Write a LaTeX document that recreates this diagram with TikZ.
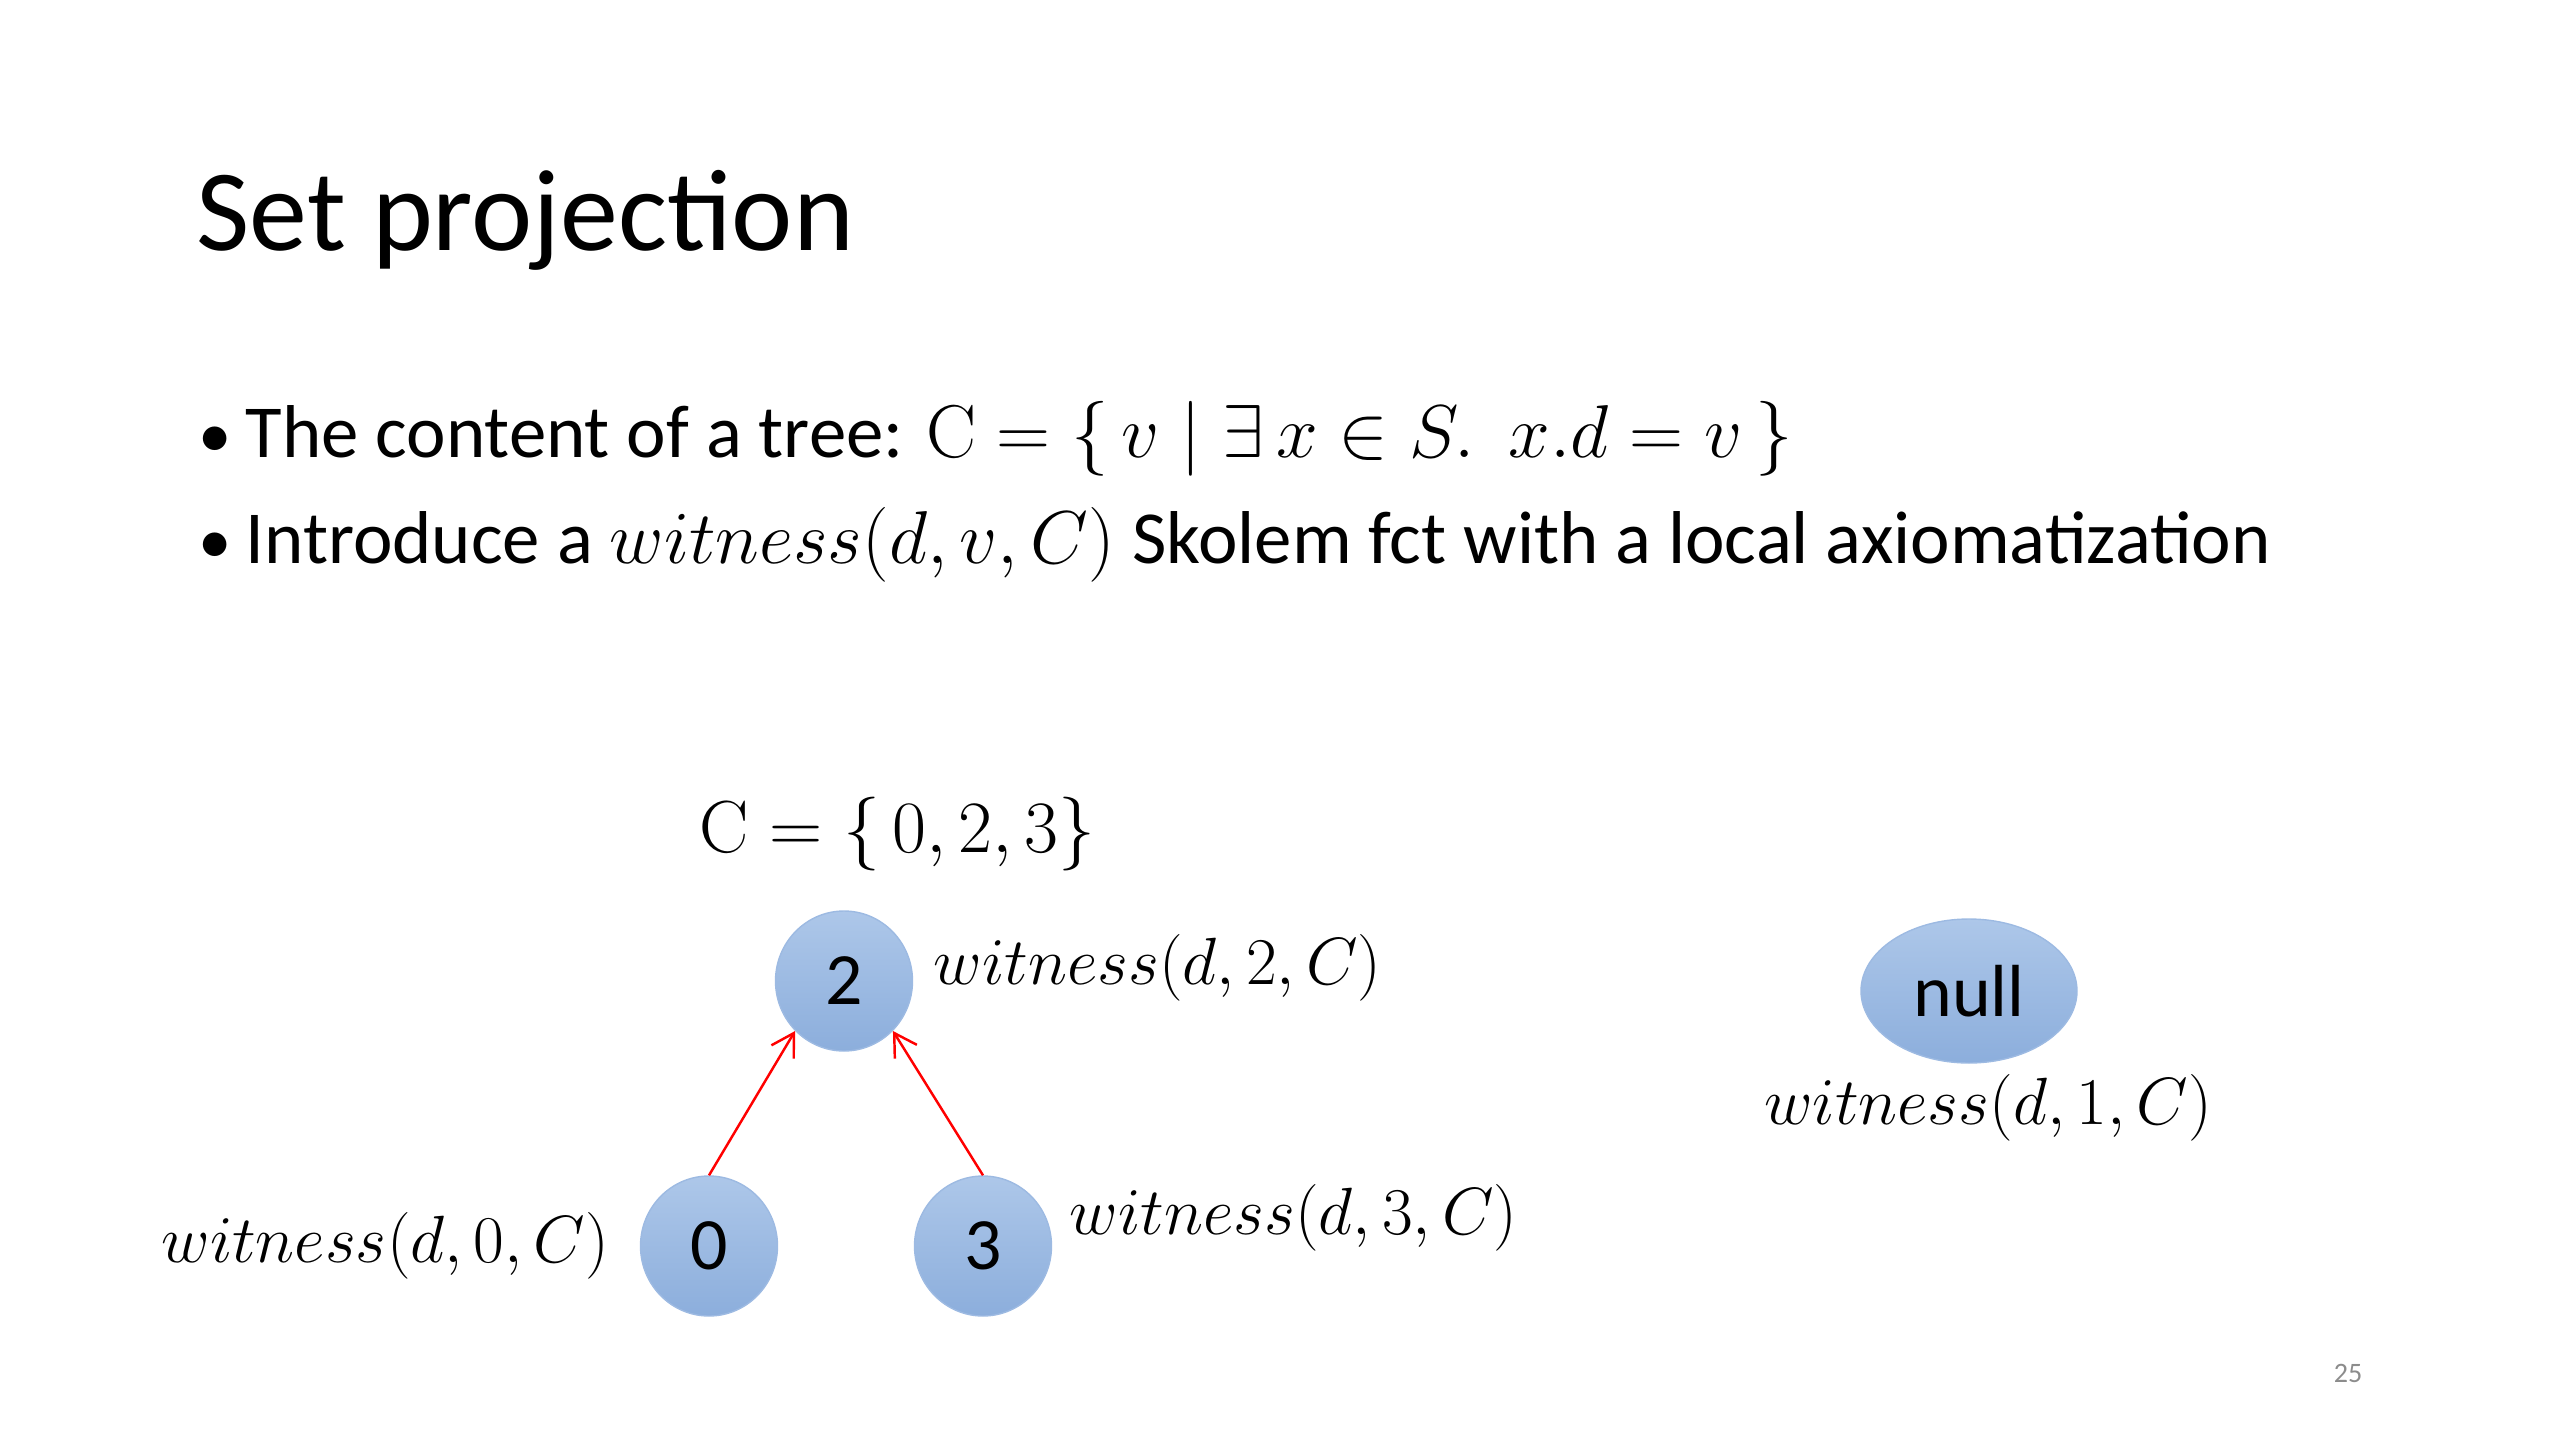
\RequirePackage{fix-cm}
\documentclass[tikz,border=0pt]{standalone}
\usepackage{amsmath}
\usepackage[no-math]{fontspec}
\setmainfont{Carlito}
\usepackage{tikz}
\usetikzlibrary{arrows.meta,positioning,shapes.geometric}

\definecolor{ballTop}{HTML}{ADC7E9}
\definecolor{ballBot}{HTML}{8CAEDC}
\definecolor{ballEdge}{HTML}{9DBAE2}
\definecolor{pagenum}{HTML}{8C8C8C}
\newcommand{\dotmark}{\makebox[0.47cm][l]{\fontsize{19}{19}\selectfont •}}

\begin{document}
\begin{tikzpicture}[
  ball/.style={ellipse, top color=ballTop, bottom color=ballBot, draw=ballEdge, line width=0.4pt,
    minimum width=1.37cm, minimum height=1.40cm, inner sep=0pt, font=\fontsize{21}{24}\selectfont},
  lbl/.style={inner sep=0pt, font=\fontsize{19}{22}\selectfont},
  bullet/.style={anchor=base west, inner sep=0pt, font=\fontsize{21.3}{25}\selectfont},
  arr/.style={-{Straight Barb[length=2.2mm, width=2.6mm]}, red, line width=0.7pt}
]
  \useasboundingbox (0,0) rectangle (25.6,-14.4);

  % heading and bullets
  \node[anchor=base west, inner sep=0pt, font=\fontsize{33}{40}\selectfont] (title) at (1.96,-2.50) {Set projection};
  \node[bullet] (b1) at (1.98,-4.57)
    {\dotmark The content of a tree: $\mathrm{C}=\{\,v \mid \exists\, x\in S.\ \ x.d = v\,\}$};
  \node[bullet] (b2) at (1.98,-5.63)
    {\dotmark Introduce a $witness(d,v,C)$ Skolem fct with a local axiomatization};

  % the tree
  \node[lbl, anchor=base west, font=\fontsize{21}{24}\selectfont] (cset) at (6.99,-8.52) {$\mathrm{C}=\{\,0,2,3\}$};
  \node[ball] (n2) at (8.44,-9.81) {2};
  \node[ball] (n0) at (7.09,-12.46) {0};
  \node[ball] (n3) at (9.83,-12.46) {3};

  \node[lbl, right=0.2cm of n2, yshift=1.3mm] (w2) {$witness(d,2,C)$};
  \node[lbl, left=0.3cm of n0] (w0) {$witness(d,0,C)$};
  \node[lbl, right=0.17cm of n3, yshift=2.8mm] (w3) {$witness(d,3,C)$};

  \draw[arr] (n0.north) -- (n2.south west);
  \draw[arr] (n3.north) -- (n2.south east);

  % the element that is not in C
  \node[ball, minimum width=2.16cm, minimum height=1.44cm] (nnull) at (19.69,-9.91) {null};
  \node[lbl, below=0.1cm of nnull, xshift=1.9mm] (w1) {$witness(d,1,C)$};

  \node[inner sep=0pt, text=pagenum, font=\fontsize{8}{10}\selectfont] (page) at (23.48,-13.73) {25};
\end{tikzpicture}
\end{document}
